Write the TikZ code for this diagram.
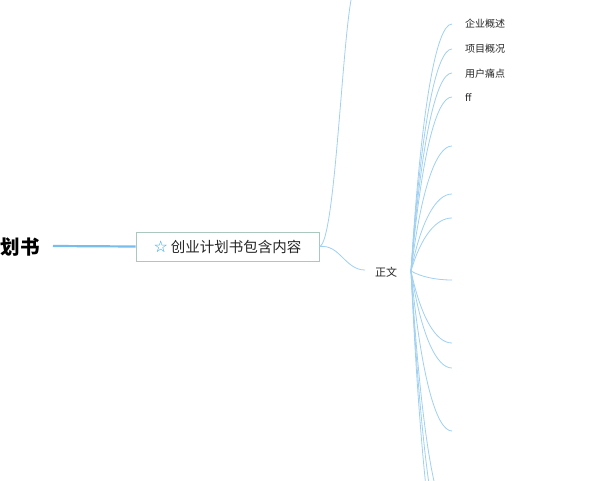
\documentclass[tikz,border=0pt]{standalone}
\usepackage{fontspec}
\setmainfont{Noto Sans CJK SC}
\definecolor{lnk}{RGB}{160,208,242}
\definecolor{rootln}{RGB}{120,190,236}
\definecolor{boxb}{RGB}{170,200,190}
\definecolor{star}{RGB}{40,160,225}
\begin{document}
\begin{tikzpicture}[x=1pt,y=-1pt,
  br/.style={draw=lnk, line width=0.8pt},
  leaf/.style={anchor=west, font=\fontsize{10}{11}\selectfont, text=black!85, inner sep=0pt}]
\useasboundingbox (0,0) rectangle (600,480);
\clip (0,0) rectangle (600,480);
\fill[white] (0,0) rectangle (600,480);
\node[anchor=east, font=\bfseries\fontsize{19.5}{21}\selectfont, inner sep=0pt] (root) at (40,247) {创业计划书};
\node[draw=boxb, line width=0.9pt, fill=white, minimum width=183pt, minimum height=29pt, inner sep=0pt, font=\fontsize{14.5}{16}\selectfont, text=black!85] (main) at (227.5,246.5) {\textcolor{star}{\fontspec{DejaVu Sans}\fontsize{16}{16}\selectfont ☆}\hspace{3pt}创业计划书包含内容};
\draw[draw=rootln, line width=2.2pt] (53,246) -- (main.west);
\node[font=\fontsize{11}{12}\selectfont, inner sep=0pt, text=black!85] (zw) at (386,272) {正文};
\coordinate (o) at (411,271);
\coordinate (top) at (352,-5);
\draw[br] (main.east) .. controls (335,244) and (342,40) .. (top);
\draw[br] (main.east) .. controls (340,244) and (345,270) .. (365,270);
\node[leaf] (l1) at (465,24) {企业概述};
\node[leaf] (l2) at (465,49) {项目概况};
\node[leaf] (l3) at (465,74) {用户痛点};
\node[leaf, font=\fontsize{10}{11}\selectfont\rmfamily] (l4) at (465,97) {ff};
\foreach \y in {24,49,73,97,146,194,218,280,343,368,431,520,560,600}{
  \draw[br] (o) .. controls ({421}, {0.35*271+0.65*\y}) and (436,\y) .. (452,\y);
}
\end{tikzpicture}
\end{document}
